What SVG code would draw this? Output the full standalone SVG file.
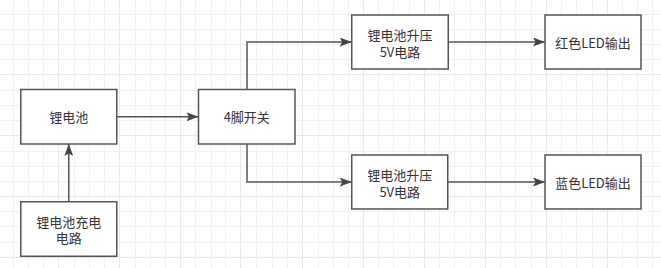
<svg xmlns="http://www.w3.org/2000/svg" width="661" height="268" viewBox="0 0 661 268">
<style>
.grid{stroke:#f1f1f1;stroke-width:1;fill:none}
.gridm{stroke:#e9e9e9;stroke-width:1;fill:none}
.box{fill:#ffffff;stroke:#555555;stroke-width:1.5}
.lbl{font-family:"Noto Sans CJK SC","Microsoft YaHei","Liberation Sans",sans-serif;font-size:13px;fill:#333333;text-anchor:middle;dominant-baseline:central}
.edge{fill:none;stroke:#555555;stroke-width:1.5}
</style>
<defs>
<marker id="arr" viewBox="0 0 12 9" refX="12" refY="4.5" markerWidth="12" markerHeight="9" markerUnits="userSpaceOnUse" orient="auto">
<path d="M0,0 L12,4.5 L0,9 L2.5,4.5 Z" fill="#444444"/>
</marker>
</defs>
<rect width="661" height="268" fill="#ffffff"/>
<g id="grid">
<path class="grid" d="M13.5 0V268M28.5 0V268M43.5 0V268M74.5 0V268M89.5 0V268M104.5 0V268M135.5 0V268M150.5 0V268M165.5 0V268M195.5 0V268M211.5 0V268M225.5 0V268M256.5 0V268M272.5 0V268M287.5 0V268M318.5 0V268M333.5 0V268M348.5 0V268M378.5 0V268M393.5 0V268M409.5 0V268M439.5 0V268M454.5 0V268M470.5 0V268M500.5 0V268M515.5 0V268M531.5 0V268M561.5 0V268M576.5 0V268M592.5 0V268M622.5 0V268M637.5 0V268M652.5 0V268"/>
<path class="gridm" d="M58.5 0V268M119.5 0V268M180.5 0V268M240.5 0V268M302.5 0V268M363.5 0V268M424.5 0V268M485.5 0V268M546.5 0V268M607.5 0V268"/>
<path class="grid" d="M0 14.5H661M0 29.5H661M0 44.5H661M0 59.5H661M0 90.5H661M0 105.5H661M0 120.5H661M0 151.5H661M0 166.5H661M0 181.5H661M0 211.5H661M0 226.5H661M0 242.5H661"/>
<path class="gridm" d="M0 74.5H661M0 135.5H661M0 196.5H661M0 257.5H661"/>
</g>
<g id="connectors">
<path class="edge" d="M117,116.75 H198.5" marker-end="url(#arr)"/>
<path class="edge" d="M68.75,201.75 V144" marker-end="url(#arr)"/>
<path class="edge" d="M247,89.5 V42 H351.75" marker-end="url(#arr)"/>
<path class="edge" d="M247,144 V182 H351.75" marker-end="url(#arr)"/>
<path class="edge" d="M448.25,42 H545" marker-end="url(#arr)"/>
<path class="edge" d="M447.75,182 H545" marker-end="url(#arr)"/>
</g>
<g id="n1">
<rect class="box" x="20.75" y="89.5" width="96" height="54.5"/>
<text class="lbl" x="68.75" y="116.75">锂电池</text>
</g>
<g id="n2">
<rect class="box" x="20.75" y="201.75" width="96" height="54.5"/>
<text class="lbl" x="68.75" y="221.5">锂电池充电</text>
<text class="lbl" x="68.75" y="237.5">电路</text>
</g>
<g id="n3">
<rect class="box" x="198.5" y="89.5" width="96.5" height="54.5"/>
<text class="lbl" x="246.75" y="116.75">4脚开关</text>
</g>
<g id="n4">
<rect class="box" x="351.75" y="15" width="96.5" height="54"/>
<text class="lbl" x="400" y="34.5">锂电池升压</text>
<text class="lbl" x="400" y="51">5V电路</text>
</g>
<g id="n5">
<rect class="box" x="545" y="15" width="96" height="54"/>
<text class="lbl" x="593" y="42">红色LED输出</text>
</g>
<g id="n6">
<rect class="box" x="351.75" y="155" width="96" height="54"/>
<text class="lbl" x="399.75" y="174.5">锂电池升压</text>
<text class="lbl" x="399.75" y="191">5V电路</text>
</g>
<g id="n7">
<rect class="box" x="545" y="155" width="96" height="54"/>
<text class="lbl" x="593" y="182">蓝色LED输出</text>
</g>
</svg>
